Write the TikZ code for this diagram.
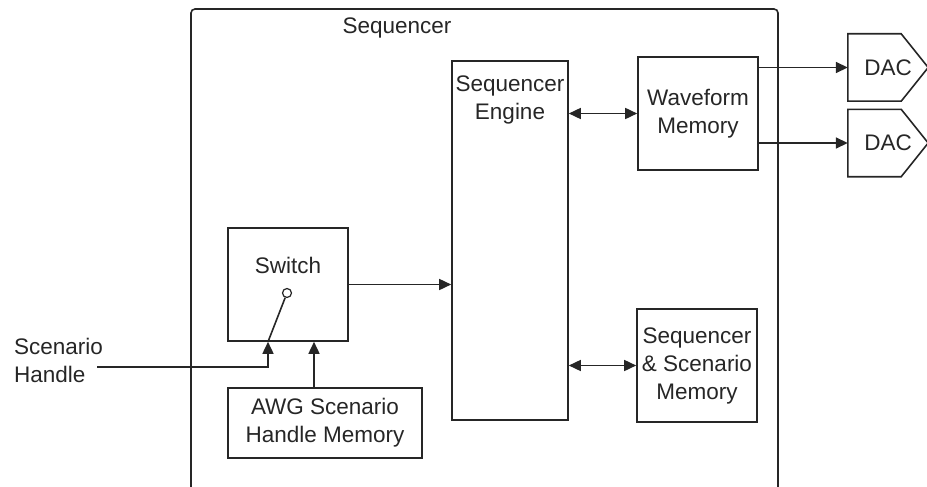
\documentclass[tikz,border=0pt]{standalone}
\usepackage{fontspec}
\setmainfont{Liberation Sans}
\usetikzlibrary{arrows.meta}

\begin{document}
\begin{tikzpicture}[
        x=1pt, y=-1pt,
        every node/.style={align=center, font=\fontsize{22.5}{28}\selectfont, text=black!85},
        block/.style={rectangle, draw=black!85, line width=1.6pt, inner sep=0pt},
        txt/.style={inner sep=0pt},
        dac/.style={rectangle, minimum width=80pt, minimum height=67pt, inner sep=0pt},
        wire/.style={draw=black!85, line width=1.6pt},
        arr/.style={wire, -{Triangle[length=12pt,width=11pt]}},
        dbl/.style={wire, {Triangle[length=12pt,width=11pt]}-{Triangle[length=12pt,width=11pt]}}
    ]
        \useasboundingbox (0,0) rectangle (927,487);

        % outer frame, open at the bottom
        \draw[wire, rounded corners=4pt] (191,487) -- (191,9) -- (778,9) -- (778,487);
        \node[txt] (title) at (397,28) {Sequencer};

        \node[block, minimum width=116pt, minimum height=359pt] (eng) at (510,240.5) {};
        \node[txt, anchor=north] (engtxt) at ([yshift=-15pt]eng.north) {Sequencer\\Engine};

        \node[block, minimum width=120pt, minimum height=113pt] (wave) at (698,113.5) {Waveform\\Memory};
        \node[block, minimum width=120pt, minimum height=113pt] (mem) at (697,365.5) {Sequencer\\\& Scenario\\Memory};

        \node[block, minimum width=120pt, minimum height=113pt] (sw) at (288,284.5) {};
        \node[txt, anchor=north] (swtxt) at ([yshift=-30pt]sw.north) {Switch};
        \node[circle, draw=black!85, line width=1.2pt, minimum size=9pt, inner sep=0pt] (pivot) at (287,293) {};

        \node[block, minimum width=194pt, minimum height=70pt] (awg) at (325,423) {AWG Scenario\\Handle Memory};
        \node[txt, align=left, anchor=west] (hlbl) at (14,360) {Scenario\\Handle};

        \node[dac] (dac1) at (888,67.5) {DAC};
        \node[dac] (dac2) at (888,143) {DAC};
        \foreach \d in {dac1,dac2}
            \draw[wire] (\d.north west) -- ([xshift=-27pt]\d.north east) -- (\d.east)
                -- ([xshift=-27pt]\d.south east) -- (\d.south west) -- cycle;

        % connectors
        \coordinate (hin) at (97,367);
        \coordinate (swin) at ([xshift=-20pt]sw.south);
        \coordinate (awgin) at ([xshift=26pt]sw.south);

        \draw[wire] (pivot) -- (swin);
        \draw[arr] (hin) -| (swin);
        \draw[arr] (awgin |- awg.north) -- (awgin);
        \draw[arr] (sw.east) -- (sw.east -| eng.west);
        \draw[dbl] (wave.west -| eng.east) -- (wave.west);
        \draw[dbl] (mem.west -| eng.east) -- (mem.west);
        \draw[arr] (dac1.west -| wave.east) -- (dac1.west);
        \draw[arr] (dac2.west -| wave.east) -- (dac2.west);
\end{tikzpicture}
\end{document}
